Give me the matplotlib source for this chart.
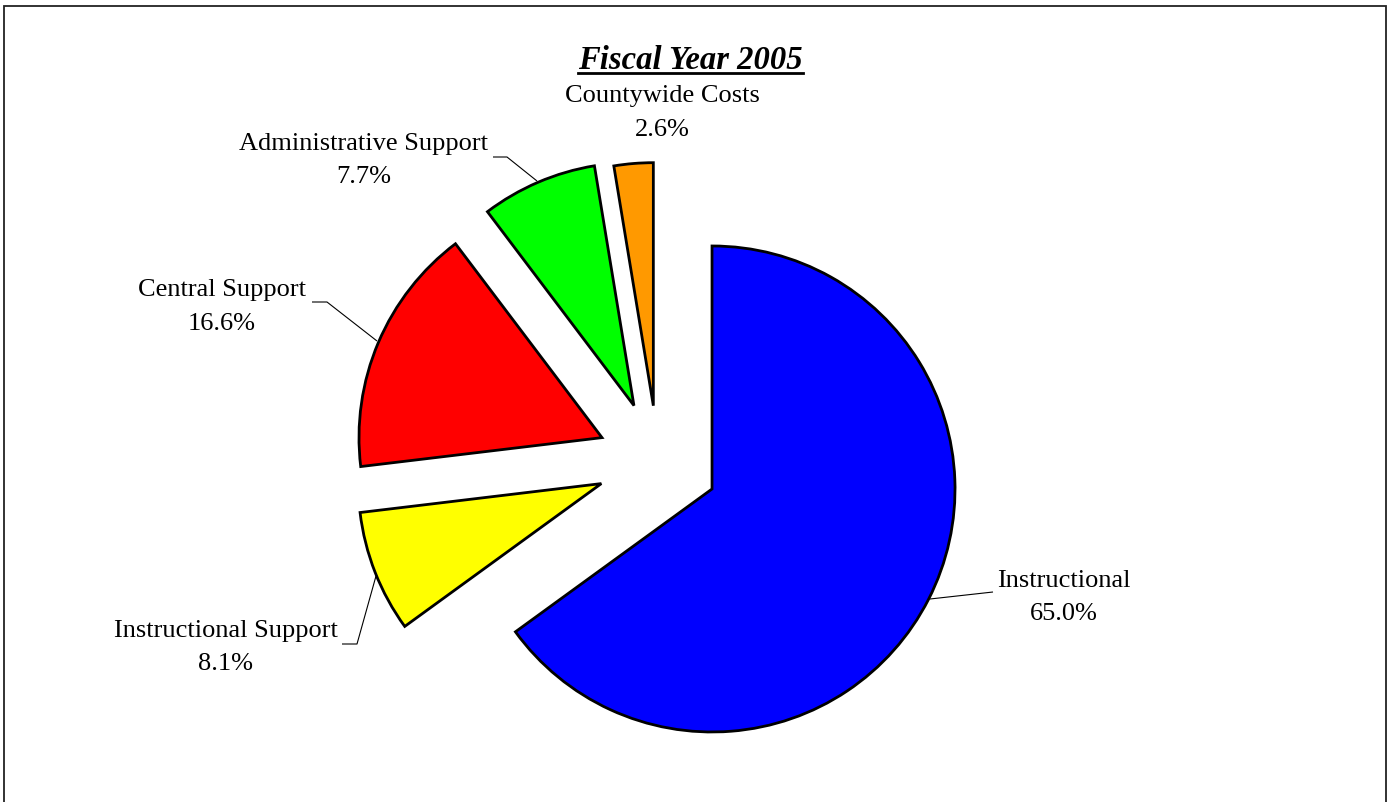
import matplotlib
matplotlib.use("Agg")
import matplotlib.pyplot as plt
from matplotlib.lines import Line2D

plt.rcParams['font.family'] = ['Liberation Serif', 'DejaVu Serif']

# Budget shares by function
categories = ["Instructional", "Instructional Support", "Central Support",
              "Administrative Support", "Countywide Costs"]
shares = [65.0, 8.1, 16.6, 7.7, 2.6]
colors = ["#0000FF", "#FFFF00", "#FF0000", "#00FF00", "#FF9900"]
explode = [0.25, 0.25, 0.25, 0.25, 0.23]
title = "Fiscal Year 2005"

W, H = 1391, 803
DPI = 100
fig = plt.figure(figsize=(W / DPI, H / DPI), dpi=DPI)
fig.patch.set_facecolor("white")

# Axes spanning the full canvas; one data unit equals the pie radius
R_PX = 243.0
CX, CY = 657.9, 462.4          # pie centre, pixels from the top-left corner
ax = fig.add_axes([0, 0, 1, 1])


def px(x, y):
    """Pixel position (from top-left) -> data coordinates."""
    return (x - CX) / R_PX, (CY - y) / R_PX


ax.pie(shares, colors=colors, explode=explode, startangle=90,
       counterclock=False, radius=1.0, center=(0, 0), frame=False,
       wedgeprops=dict(edgecolor="black", linewidth=2.0, joinstyle="miter"))
ax.set_aspect("auto")
x0, y0 = px(0, H)
x1, y1 = px(W, 0)
ax.set_xlim(x0, x1)
ax.set_ylim(y0, y1)
ax.axis("off")

# Label blocks: centre x, first and second baselines (pixels)
label_pos = [
    (1063.5, 586.7, 620.0),
    (225.8, 636.7, 670.0),
    (222.0, 296.0, 329.5),
    (363.8, 150.0, 183.3),
    (662.0, 101.7, 135.5),
]
# Leader lines (pixel polylines); Countywide Costs has none
leaders = [
    [(930, 600), (993, 593)],
    [(376, 577), (357, 645), (342, 645)],
    [(377, 342), (327, 303), (312, 303)],
    [(537, 182), (507, 158), (493, 158)],
    None,
]

FS = 19
for name, val, (lx, b1, b2), lead in zip(categories, shares, label_pos, leaders):
    tx, ty = px(lx, b1)
    ax.text(tx, ty, name, ha="center", va="baseline", fontsize=FS, color="black")
    tx, ty = px(lx, b2)
    ax.text(tx, ty, f"{val:.1f}%", ha="center", va="baseline", fontsize=FS,
            color="black")
    if lead:
        xs, ys = zip(*[px(a, b) for a, b in lead])
        ax.plot(xs, ys, color="black", linewidth=0.8, solid_capstyle="butt")

# Title, bold italic and underlined
tx, ty = px(690.8, 68.5)
t = ax.text(tx, ty, title, ha="center", va="baseline", fontsize=23.5,
            fontweight="bold", fontstyle="italic", color="black")
fig.canvas.draw()
bb = t.get_window_extent(renderer=fig.canvas.get_renderer())
uy = (H - 73.5) / H
fig.add_artist(Line2D([bb.x0 / W, bb.x1 / W], [uy, uy], color="black",
                      linewidth=2.0, transform=fig.transFigure))

# Outer border (open at the bottom edge)
bx0, bx1, by0 = 3.8 / W, 1385.5 / W, (H - 6.5) / H
fig.add_artist(Line2D([bx0, bx0, bx1, bx1], [0, by0, by0, 0], color="#222222",
                      linewidth=1.3, transform=fig.transFigure,
                      solid_joinstyle="miter"))

fig.savefig("out.png", dpi=DPI, facecolor="white")
